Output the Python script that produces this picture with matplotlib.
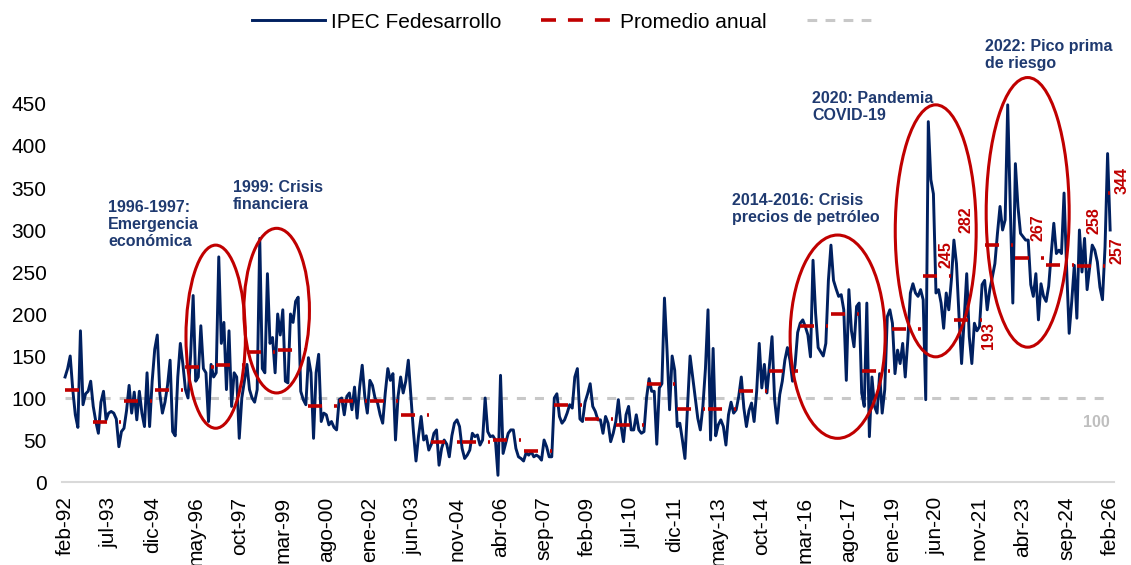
import numpy as np
import pandas as pd
import matplotlib
matplotlib.use('Agg')
import matplotlib.pyplot as plt
from matplotlib.lines import Line2D
from matplotlib.patches import Ellipse

plt.rcParams['font.family'] = ['Liberation Sans', 'DejaVu Sans']
plt.rcParams['lines.scale_dashes'] = False

# IPEC Fedesarrollo, mensual desde feb-92
ipec = [
    125, 135, 150, 110, 80, 65, 180, 92, 105, 108, 120,           # 1992
    90, 72, 58, 95, 108, 74, 82, 84, 82, 75, 42, 60,              # 1993
    64, 85, 115, 82, 107, 74, 108, 82, 66, 130, 66, 120,          # 1994
    158, 175, 105, 82, 95, 115, 145, 60, 55, 125, 165, 140,       # 1995
    110, 100, 150, 222, 120, 125, 186, 135, 130, 72, 140, 125,    # 1996
    130, 268, 165, 190, 110, 180, 90, 130, 125, 52, 100, 120,     # 1997
    140, 110, 100, 95, 110, 290, 135, 130, 248, 165, 172, 130,    # 1998
    200, 175, 205, 120, 118, 200, 190, 215, 220, 108, 98, 92,     # 1999
    148, 130, 52, 130, 152, 72, 82, 80, 68, 72, 65, 62,           # 2000
    98, 100, 80, 102, 106, 86, 113, 76, 113, 139, 102, 82,        # 2001
    121, 115, 100, 94, 80, 70, 106, 135, 121, 129, 50, 102,       # 2002
    125, 106, 120, 145, 102, 60, 25, 55, 78, 50, 55, 38,          # 2003
    45, 58, 62, 20, 40, 50, 45, 30, 55, 70, 74, 66,               # 2004
    40, 28, 32, 38, 58, 54, 56, 44, 50, 100, 60, 54,              # 2005
    55, 50, 8, 127, 34, 46, 58, 62, 62, 40, 30, 28,               # 2006
    25, 35, 32, 36, 30, 32, 30, 26, 50, 42, 30, 30,               # 2007
    100, 105, 78, 70, 74, 82, 92, 88, 125, 135, 75, 72,           # 2008
    95, 105, 117, 90, 84, 74, 74, 58, 78, 70, 48, 58,             # 2009
    72, 98, 68, 48, 80, 90, 62, 62, 80, 62, 58, 60,               # 2010
    100, 123, 108, 108, 45, 112, 117, 219, 157, 86, 150, 133,     # 2011
    66, 70, 50, 28, 90, 150, 125, 100, 76, 62, 90, 135,           # 2012
    205, 50, 159, 55, 68, 74, 66, 44, 80, 95, 82, 86,             # 2013
    102, 125, 88, 66, 85, 94, 72, 108, 165, 112, 140, 106,        # 2014
    140, 173, 98, 70, 104, 120, 145, 160, 145, 120, 140, 178,     # 2015
    189, 193, 185, 175, 149, 264, 201, 160, 155, 150, 165, 240,   # 2016
    282, 240, 230, 221, 223, 205, 121, 229, 180, 161, 209, 213,   # 2017
    106, 90, 213, 54, 125, 90, 82, 129, 82, 110, 197, 205,        # 2018
    189, 129, 157, 141, 165, 125, 169, 225, 236, 225, 221, 229,   # 2019
    217, 98, 429, 360, 343, 225, 229, 213, 183, 225, 205, 240,    # 2020
    288, 260, 197, 141, 193, 248, 173, 141, 189, 180, 185, 235,   # 2021
    240, 205, 229, 244, 260, 296, 328, 300, 312, 449, 328, 213,   # 2022
    379, 328, 296, 292, 288, 288, 235, 221, 248, 193, 236, 221,   # 2023
    215, 233, 272, 308, 272, 276, 272, 344, 255, 177, 215, 258,   # 2024
    195, 300, 250, 290, 229, 255, 282, 276, 262, 232, 217, 280,   # 2025
    391, 300,                                                     # 2026
]

anios = list(range(1992, 2027))
promedio_anual = [110, 72, 97, 110, 137, 139, 155, 157, 90, 97, 97, 80,
                  48, 48, 50, 37, 92, 75, 68, 117, 87, 87, 108, 132,
                  186, 200, 132, 182, 245, 193, 282, 267, 258, 257, 344]

tick_labels = ['feb-92', 'jul-93', 'dic-94', 'may-96', 'oct-97', 'mar-99',
               'ago-00', 'ene-02', 'jun-03', 'nov-04', 'abr-06', 'sep-07',
               'feb-09', 'jul-10', 'dic-11', 'may-13', 'oct-14', 'mar-16',
               'ago-17', 'ene-19', 'jun-20', 'nov-21', 'abr-23', 'sep-24',
               'feb-26']

# anotaciones: texto, posicion (mes, valor)
notas = [
    ('1996-1997:\nEmergencia\neconómica', 16.8, 306.5),
    ('1999: Crisis\nfinanciera', 65.6, 340.7),
    ('2014-2016: Crisis\nprecios de petróleo', 260.4, 324.8),
    ('2020: Pandemia\nCOVID-19', 291.7, 446.8),
    ('2022: Pico prima\nde riesgo', 359.2, 508.3),
]
# elipses: centro (mes, valor), ancho, alto
elipses = [
    (58.8, 173, 23.2, 218),
    (82.6, 204, 25.6, 196),
    (301.6, 173, 37.1, 242),
    (339.9, 299, 31.6, 300),
    (375.8, 321, 32.4, 321),
]
# etiquetas de promedio: anio, posicion
etiquetas = [
    (2020, 343.8, 270.2),
    (2022, 351.6, 311.9),
    (2021, 360.4, 173.8),
    (2023, 379.9, 303.0),
    (2024, 401.6, 311.3),
    (2025, 410.6, 275.0),
    (2026, 412.5, 359.5),
]

azul = '#002060'
rojo = '#c00000'
gris = '#c8c8c8'

fechas = pd.date_range('1992-02-01', periods=len(ipec), freq='MS')
x = np.arange(len(ipec))

fig = plt.figure(figsize=(11.31, 5.65), dpi=100)
ax = fig.add_axes([62 / 1131, 1 - 482 / 565, 1052 / 1131, 453.6 / 565])

ax.hlines(100, x[0], x[-1], color=gris, lw=2.2, linestyle=(0, (6.5, 6.5)), zorder=1)
ax.plot(x, ipec, color=azul, lw=2.1, zorder=3)

# promedio anual: un segmento por anio
for anio, prom in zip(anios, promedio_anual):
    idx = x[fechas.year == anio]
    ax.plot(idx, [prom] * len(idx), color=rojo, lw=2.6,
            linestyle=(0, (10.1, 8.6)), dash_capstyle='butt', zorder=4)

for cx, cy, w, h in elipses:
    ax.add_patch(Ellipse((cx, cy), w, h, fill=False, edgecolor=rojo, lw=2.2, zorder=5))

for txt, mx, my in notas:
    ax.text(mx, my, txt, color='#1f3a70', fontsize=11.5, fontweight='bold',
            ha='left', va='center', linespacing=1.15)

prom_dict = dict(zip(anios, promedio_anual))
for anio, mx, my in etiquetas:
    ax.text(mx, my, str(prom_dict[anio]), color=rojo, fontsize=11.5, fontweight='bold',
            rotation=90, ha='center', va='center')

ax.text(402.5, 70.8, '100', color='#bfbfbf', fontsize=11.5, fontweight='bold',
        ha='center', va='center')

ax.set_xlim(-1.2, 409.5)
ax.set_ylim(0, 540)
ax.set_yticks(range(0, 451, 50))
ax.set_xticks(np.arange(0, len(ipec), 17))
ax.set_xticklabels(tick_labels, rotation=90)
ax.tick_params(axis='x', length=0, pad=10.5, labelsize=15)
ax.tick_params(axis='y', length=0, pad=11, labelsize=15)

for s in ['top', 'right', 'left']:
    ax.spines[s].set_visible(False)
ax.spines['bottom'].set_color('#d9d9d9')
ax.spines['bottom'].set_linewidth(1.5)

handles = [
    Line2D([], [], color=azul, lw=2.1),
    Line2D([], [], color=rojo, lw=2.6, linestyle=(0, (10.8, 8.6))),
    Line2D([], [], color=gris, lw=2.2, linestyle=(0, (7, 6))),
]
fig.legend(handles, ['IPEC Fedesarrollo', 'Promedio anual', ''], loc='center',
           bbox_to_anchor=(0.503, 1 - 22 / 565), ncol=3, frameon=False, fontsize=15,
           handlelength=3.5, handletextpad=0.3, columnspacing=1.9)

fig.savefig('out.png', dpi=100)
